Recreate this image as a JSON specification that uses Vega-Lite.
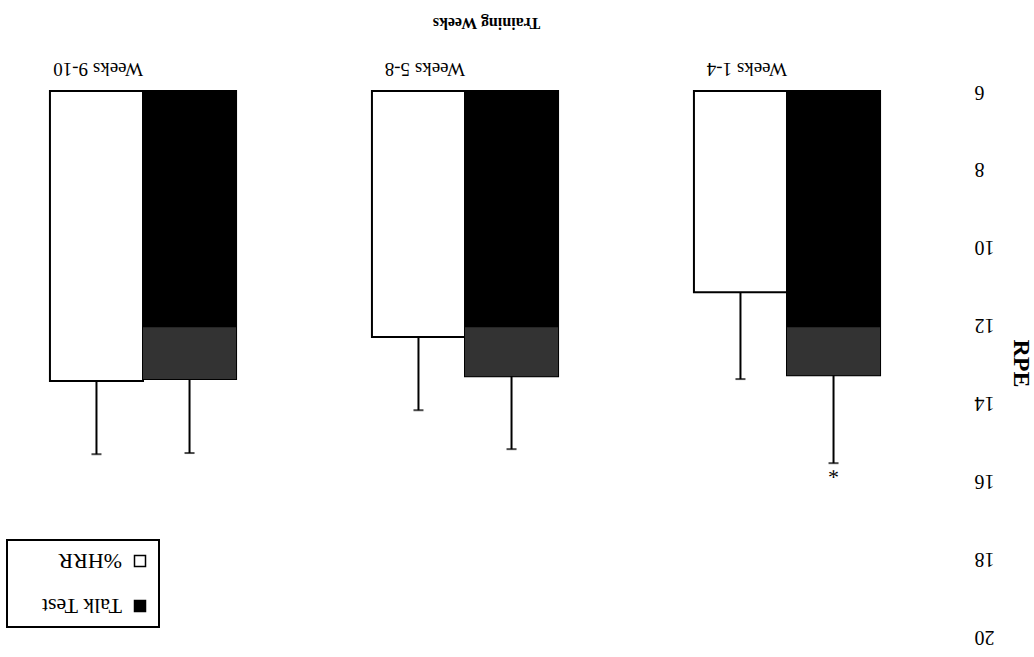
{
  "$schema": "https://vega.github.io/schema/vega-lite/v6.json",
  "autosize": "none",
  "width": 890,
  "height": 545,
  "padding": {"left": 20, "top": 91, "right": 124, "bottom": 21},
  "background": "white",
  "config": {
    "view": {"stroke": null},
    "font": "Liberation Serif",
    "axis": {"labelFont": "Liberation Serif", "titleFont": "Liberation Serif", "labelColor": "black", "titleColor": "black"},
    "legend": {"labelFont": "Liberation Serif", "labelColor": "black"}
  },
  "data": {
    "values": [
      {"week": "Weeks 1-4", "series": "Talk Test", "value": 13.3, "upper": 15.56, "sig": "*"},
      {"week": "Weeks 1-4", "series": "%HRR", "value": 11.17, "upper": 13.4, "sig": ""},
      {"week": "Weeks 5-8", "series": "Talk Test", "value": 13.33, "upper": 15.2, "sig": ""},
      {"week": "Weeks 5-8", "series": "%HRR", "value": 12.32, "upper": 14.2, "sig": ""},
      {"week": "Weeks 9-10", "series": "Talk Test", "value": 13.4, "upper": 15.3, "sig": ""},
      {"week": "Weeks 9-10", "series": "%HRR", "value": 13.45, "upper": 15.33, "sig": ""}
    ]
  },
  "encoding": {
    "x": {
      "field": "week",
      "type": "nominal",
      "sort": ["Weeks 9-10", "Weeks 5-8", "Weeks 1-4"],
      "scale": {"paddingInner": 0.422, "paddingOuter": 0.093},
      "axis": {
        "orient": "top",
        "title": "Training Weeks",
        "domain": false,
        "ticks": false,
        "labelAngle": 180,
        "labelAlign": "left",
        "labelBaseline": "middle",
        "labelPadding": 23,
        "labelFontSize": 19,
        "titleAngle": 180,
        "titleFontSize": 16,
        "titleFontWeight": "bold",
        "titleX": 466,
        "titleY": -69,
        "titleAlign": "center",
        "titleBaseline": "middle"
      }
    },
    "xOffset": {
      "field": "series",
      "type": "nominal",
      "sort": ["%HRR", "Talk Test"],
      "scale": {"paddingInner": 0, "paddingOuter": 0}
    }
  },
  "layer": [
    {
      "mark": {"type": "bar", "stroke": "black", "strokeWidth": 2},
      "encoding": {
        "y": {
          "field": "value",
          "type": "quantitative",
          "scale": {"domain": [6, 20], "reverse": true, "zero": false, "nice": false},
          "axis": {
            "orient": "right",
            "title": "RPE",
            "values": [6, 8, 10, 12, 14, 16, 18, 20],
            "domain": false,
            "ticks": false,
            "grid": false,
            "labelAngle": 180,
            "labelAlign": "right",
            "labelBaseline": "middle",
            "labelPadding": 64,
            "labelFontSize": 20,
            "titleAngle": 90,
            "titleFontSize": 24,
            "titleFontWeight": "bold",
            "titleX": 110,
            "titleY": 272,
            "titleAlign": "center",
            "titleBaseline": "middle"
          }
        },
        "y2": {"datum": 6},
        "color": {
          "field": "series",
          "type": "nominal",
          "scale": {"domain": ["%HRR", "Talk Test"], "range": ["white", "black"]},
          "legend": {
            "title": null,
            "orient": "none",
            "legendX": -13,
            "legendY": 449,
            "strokeColor": "black",
            "fillColor": "white",
            "padding": 10,
            "symbolType": "square",
            "symbolSize": 121,
            "symbolStrokeColor": "black",
            "symbolStrokeWidth": 1.5,
            "symbolOpacity": 1,
            "labelFontSize": 22,
            "rowPadding": 22,
            "symbolOffset": 112,
            "labelOffset": -29,
            "encode": {
              "labels": {"update": {"angle": {"value": 180}}},
              "legend": {"update": {"strokeWidth": {"value": 2}}}
            }
          }
        }
      }
    },
    {
      "transform": [{"filter": "datum.series === 'Talk Test'"}],
      "mark": {"type": "bar", "color": "#333333"},
      "encoding": {
        "y": {"field": "value", "type": "quantitative"},
        "y2": {"datum": 12.07}
      }
    },
    {
      "mark": {"type": "rule", "color": "black", "strokeWidth": 2},
      "encoding": {
        "y": {"field": "value", "type": "quantitative"},
        "y2": {"field": "upper"}
      }
    },
    {
      "mark": {"type": "tick", "color": "black", "size": 10, "thickness": 2, "orient": "horizontal"},
      "encoding": {
        "y": {"field": "upper", "type": "quantitative"}
      }
    },
    {
      "transform": [{"filter": "datum.sig !== ''"}],
      "mark": {"type": "text", "fontSize": 22, "angle": 180, "dy": -8, "baseline": "middle", "color": "black", "font": "Liberation Serif"},
      "encoding": {
        "y": {"field": "upper", "type": "quantitative"},
        "text": {"field": "sig"}
      }
    }
  ]
}
